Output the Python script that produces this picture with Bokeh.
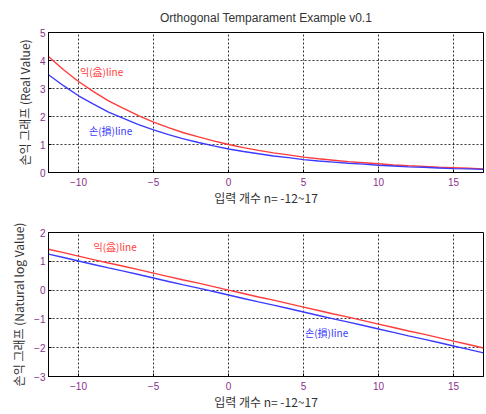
from bokeh.plotting import figure
from bokeh.layouts import column
from bokeh.models import FixedTicker, ColumnDataSource
from bokeh.core.properties import value
from bokeh.embed import file_html
from bokeh.resources import INLINE

n = list(range(-12, 18))
red_real = [4.14, 3.67, 3.25, 2.89, 2.56, 2.29, 2.03, 1.80, 1.60, 1.42, 1.27, 1.13, 1.00, 0.89, 0.79,
            0.70, 0.63, 0.55, 0.49, 0.44, 0.39, 0.35, 0.31, 0.27, 0.24, 0.22, 0.19, 0.17, 0.15, 0.13]
blue_real = [3.49, 3.10, 2.74, 2.44, 2.16, 1.93, 1.71, 1.52, 1.35, 1.20, 1.07, 0.95, 0.84, 0.75, 0.67,
             0.59, 0.53, 0.46, 0.41, 0.37, 0.33, 0.30, 0.26, 0.23, 0.20, 0.19, 0.16, 0.14, 0.13, 0.11]
red_log = [1.42, 1.30, 1.18, 1.06, 0.94, 0.83, 0.71, 0.59, 0.47, 0.35, 0.24, 0.12, 0.00, -0.12, -0.24,
           -0.35, -0.47, -0.59, -0.71, -0.83, -0.94, -1.06, -1.18, -1.30, -1.42, -1.53, -1.65, -1.77, -1.89, -2.01]
blue_log = [1.25, 1.13, 1.01, 0.89, 0.77, 0.66, 0.54, 0.42, 0.30, 0.18, 0.07, -0.05, -0.17, -0.29, -0.41,
            -0.52, -0.64, -0.76, -0.88, -1.00, -1.11, -1.23, -1.35, -1.47, -1.59, -1.70, -1.82, -1.94, -2.06, -2.18]

x_ticks = [-10, -5, 0, 5, 10, 15]
y_ticks_top = [0, 1, 2, 3, 4, 5]
y_ticks_bot = [-3, -2, -1, 0, 1, 2]

title_text = "Orthogonal Temparament Example v0.1"
xlabel = "입력 개수 n= -12~17"
ylabel_top = "손익 그래프 (Real Value)"
ylabel_bot = "손익 그래프 (Natural log Value)"
label_ik = "익(益)line"
label_son = "손(損)line"

# annotation anchor points (data coords)
top_ik_xy = (-9.9, 3.6)
top_son_xy = (-9.3, 1.5)
bot_ik_xy = (-9.0, 1.5)
bot_son_xy = (5.1, -1.47)

RED = "#ff3b3b"
BLUE = "#3b3bff"
TICK_COLOR = "#8a2f8a"
KFONT = "Noto Sans CJK KR"


def make_fig(ymin, ymax, yticks, ylabel, red, blue, ik_xy, son_xy, with_title, top_border, frame_h):
    kw = {}
    if with_title:
        kw["title"] = title_text
    p = figure(frame_width=435, frame_height=frame_h, x_range=(-12, 17), y_range=(ymin, ymax),
               output_backend="svg", toolbar_location=None, min_border_left=48,
               min_border_right=2, min_border_top=top_border, min_border_bottom=0, **kw)
    if with_title:
        p.title.align = "center"
        p.title.text_font = "Liberation Sans"
        p.title.text_font_size = "12px"
        p.title.text_font_style = "normal"
        p.title.text_color = "#333333"
        p.title.offset = 0
        p.title.standoff = 16
    src = ColumnDataSource(dict(n=n, red=red, blue=blue))
    p.line("n", "red", source=src, line_color=RED, line_width=1.4)
    p.line("n", "blue", source=src, line_color=BLUE, line_width=1.4)
    p.text(x=[ik_xy[0]], y=[ik_xy[1]], text=[label_ik], text_color=RED, text_font=value(KFONT),
           text_font_size="10px", text_baseline="middle")
    p.text(x=[son_xy[0]], y=[son_xy[1]], text=[label_son], text_color=BLUE, text_font=value(KFONT),
           text_font_size="10px", text_baseline="middle")

    p.xaxis.ticker = FixedTicker(ticks=x_ticks)
    p.yaxis.ticker = FixedTicker(ticks=yticks)
    for ax in (p.xaxis, p.yaxis):
        ax.major_label_text_color = TICK_COLOR
        ax.major_label_text_font = "Liberation Sans"
        ax.major_label_text_font_size = "10px"
        ax.major_tick_in = 3
        ax.major_tick_out = 0
        ax.minor_tick_line_color = None
        ax.axis_line_color = "black"
        ax.major_tick_line_color = "black"
        ax.axis_label_text_font = KFONT
        ax.axis_label_text_font_style = "normal"
        ax.axis_label_text_color = "#333333"
        ax.axis_label_text_font_size = "12px"
    p.xaxis.axis_label = xlabel
    p.xaxis.major_label_standoff = 5
    p.xaxis.axis_label_standoff = 0
    p.yaxis.axis_label = ylabel
    p.yaxis.major_label_standoff = 3
    p.yaxis.axis_label_standoff = 4
    p.xgrid.grid_line_color = "black"
    p.ygrid.grid_line_color = "black"
    p.xgrid.grid_line_dash = "2 2"
    p.ygrid.grid_line_dash = "2 2"
    p.xgrid.grid_line_alpha = 0.8
    p.ygrid.grid_line_alpha = 0.8
    p.outline_line_color = "black"
    p.outline_line_width = 1
    p.outline_line_alpha = 1
    p.background_fill_color = "white"
    p.border_fill_color = "white"
    return p


p1 = make_fig(0, 5, y_ticks_top, ylabel_top, red_real, blue_real, top_ik_xy, top_son_xy, True, 4, 140)
p2 = make_fig(-3, 2, y_ticks_bot, ylabel_bot, red_log, blue_log, bot_ik_xy, bot_son_xy, False, 24, 144)

layout = column(p1, p2, spacing=0)
open("out.html", "w").write(file_html(layout, INLINE))
